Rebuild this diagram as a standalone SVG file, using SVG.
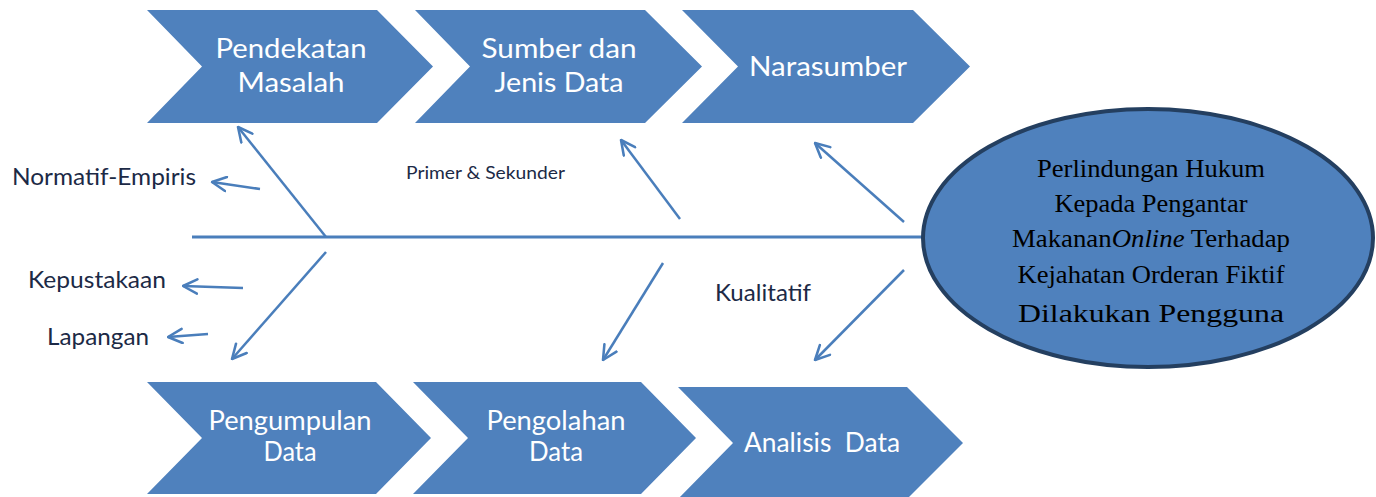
<svg xmlns="http://www.w3.org/2000/svg" width="1376" height="497" viewBox="0 0 1376 497">
  <style>
    .chev { fill: #4F81BD; }
    .chev-text { font-family: Lato, "Open Sans", sans-serif; font-size: 26px; fill: #FFFFFF; text-anchor: middle; }
    .label { font-family: Lato, "Open Sans", sans-serif; font-size: 23px; fill: #1C2A46; }
    .small { font-size: 16.5px; }
    .spine { stroke: #4A7EBB; stroke-width: 3; fill: none; }
    .arrow { stroke: #4A7EBB; stroke-width: 2.5; fill: none; marker-end: url(#open); }
    .head { font-family: "Liberation Serif", "Times New Roman", serif; font-size: 25px; fill: #000000; text-anchor: middle; }
  </style>
  <defs>
    <marker id="open" viewBox="0 0 12 12" refX="11" refY="6" markerWidth="17" markerHeight="17" markerUnits="userSpaceOnUse" orient="auto">
      <path d="M1,1 L11,6 L1,11" fill="none" stroke="#4A7EBB" stroke-width="1.8" stroke-linecap="round" stroke-linejoin="round"/>
    </marker>
  </defs>

  <rect width="1376" height="497" fill="#FFFFFF"/>

  <!-- connectors: spine and branch arrows -->
  <g id="connectors">
    <line class="spine" x1="192" y1="237" x2="922" y2="237"/>
    <line class="arrow" x1="326" y1="237" x2="238" y2="127"/>
    <line class="arrow" x1="260" y1="189" x2="212" y2="182"/>
    <line class="arrow" x1="326" y1="252" x2="232" y2="359"/>
    <line class="arrow" x1="243" y1="288" x2="183" y2="286"/>
    <line class="arrow" x1="208" y1="334" x2="168" y2="337"/>
    <line class="arrow" x1="680" y1="219" x2="621" y2="140"/>
    <line class="arrow" x1="904" y1="222" x2="815" y2="143"/>
    <line class="arrow" x1="663" y1="263" x2="603" y2="360"/>
    <line class="arrow" x1="904" y1="270" x2="815" y2="360"/>
  </g>

  <!-- top row -->
  <g id="pendekatan-masalah">
    <polygon class="chev" points="147,10 377,10 433,66.5 377,123 147,123 202,66.5"/>
    <text class="chev-text" x="291" y="58" textLength="151" lengthAdjust="spacingAndGlyphs">Pendekatan</text>
    <text class="chev-text" x="291" y="92" textLength="107" lengthAdjust="spacingAndGlyphs">Masalah</text>
  </g>
  <g id="sumber-jenis-data">
    <polygon class="chev" points="415,10 645,10 702,66.5 645,123 415,123 470,66.5"/>
    <text class="chev-text" x="559" y="58" textLength="155" lengthAdjust="spacingAndGlyphs">Sumber dan</text>
    <text class="chev-text" x="559" y="92" textLength="129" lengthAdjust="spacingAndGlyphs">Jenis Data</text>
  </g>
  <g id="narasumber">
    <polygon class="chev" points="682,10 913,10 970,66.5 913,123 682,123 738,66.5"/>
    <text class="chev-text" x="828" y="76" textLength="158" lengthAdjust="spacingAndGlyphs">Narasumber</text>
  </g>

  <!-- bottom row -->
  <g id="pengumpulan-data">
    <polygon class="chev" points="147,382 376,382 431,438 376,494 147,494 202,438"/>
    <text class="chev-text" x="290" y="430" textLength="163" lengthAdjust="spacingAndGlyphs">Pengumpulan</text>
    <text class="chev-text" x="290" y="461" textLength="53" lengthAdjust="spacingAndGlyphs">Data</text>
  </g>
  <g id="pengolahan-data">
    <polygon class="chev" points="413,382 641,382 696,438 641,494 413,494 468,438"/>
    <text class="chev-text" x="556" y="430" textLength="139" lengthAdjust="spacingAndGlyphs">Pengolahan</text>
    <text class="chev-text" x="556" y="461" textLength="54" lengthAdjust="spacingAndGlyphs">Data</text>
  </g>
  <g id="analisis-data">
    <polygon class="chev" points="678,387 907,387 963,443 907,499 678,499 733,443"/>
    <text class="chev-text" x="822" y="452" textLength="156" lengthAdjust="spacingAndGlyphs" xml:space="preserve">Analisis  Data</text>
  </g>

  <!-- branch labels -->
  <g id="labels">
    <text class="label" x="12" y="185" textLength="184" lengthAdjust="spacingAndGlyphs">Normatif-Empiris</text>
    <text class="label small" x="406" y="179" textLength="159" lengthAdjust="spacingAndGlyphs">Primer &amp; Sekunder</text>
    <text class="label" x="28" y="288" textLength="138" lengthAdjust="spacingAndGlyphs">Kepustakaan</text>
    <text class="label" x="47" y="345" textLength="102" lengthAdjust="spacingAndGlyphs">Lapangan</text>
    <text class="label" x="715" y="301" textLength="96" lengthAdjust="spacingAndGlyphs">Kualitatif</text>
  </g>

  <!-- head of the diagram -->
  <g id="head">
    <ellipse cx="1148" cy="238" rx="225" ry="129" fill="#4F81BD" stroke="#243F60" stroke-width="4"/>
    <text class="head" x="1151" y="177" textLength="228" lengthAdjust="spacingAndGlyphs">Perlindungan Hukum</text>
    <text class="head" x="1151" y="212" textLength="193" lengthAdjust="spacingAndGlyphs">Kepada Pengantar</text>
    <text class="head" x="1151" y="247" textLength="278" lengthAdjust="spacingAndGlyphs">Makanan<tspan font-style="italic">Online</tspan> Terhadap</text>
    <text class="head" x="1151" y="283" textLength="267" lengthAdjust="spacingAndGlyphs">Kejahatan Orderan Fiktif</text>
    <text class="head" x="1151" y="322" font-size="29" textLength="266" lengthAdjust="spacingAndGlyphs">Dilakukan Pengguna</text>
  </g>
</svg>
